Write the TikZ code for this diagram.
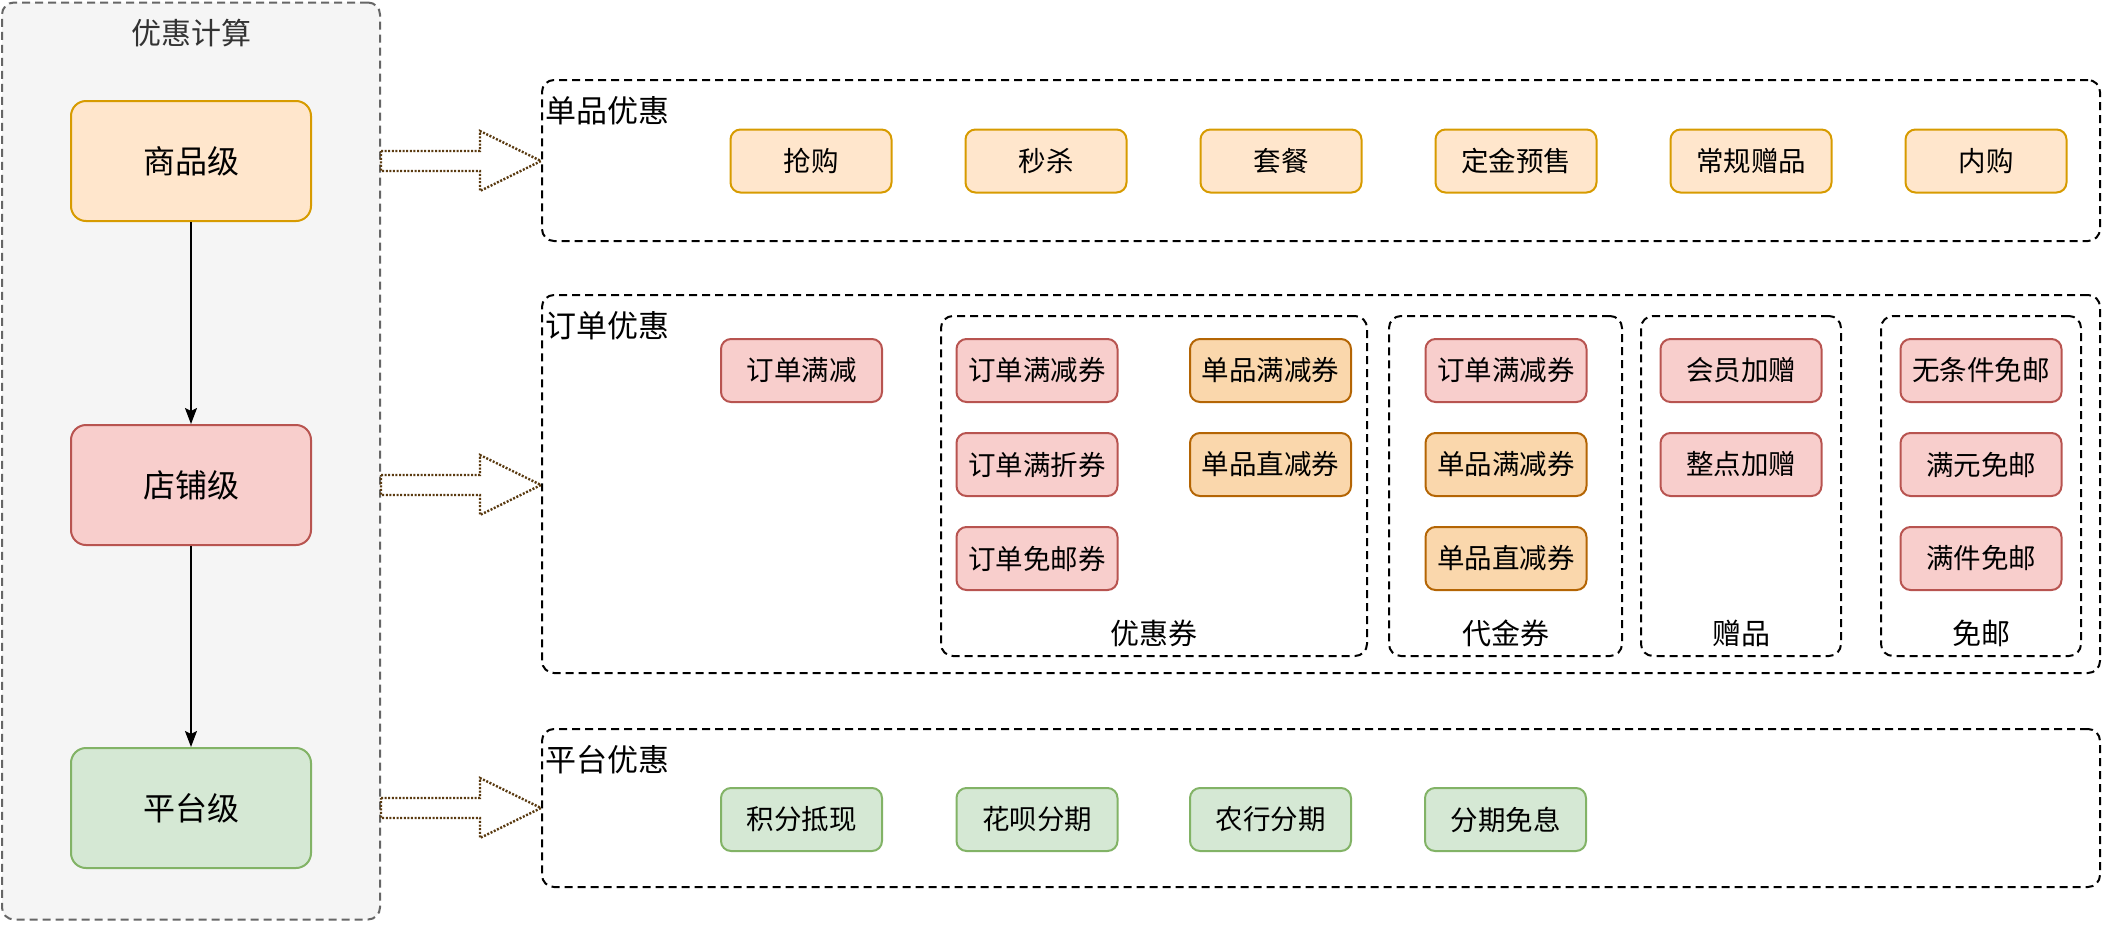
\documentclass[tikz,border=0pt]{standalone}
\usepackage{fontspec}
\setmainfont{Noto Sans CJK SC}
\usetikzlibrary{arrows.meta,calc}
\definecolor{og}{HTML}{FFE6CC}\definecolor{ogd}{HTML}{D79B00}
\definecolor{rd}{HTML}{F8CECC}\definecolor{rdd}{HTML}{B85450}
\definecolor{gr}{HTML}{D5E8D4}\definecolor{grd}{HTML}{82B366}
\definecolor{o2}{HTML}{FAD7AC}\definecolor{o2d}{HTML}{B46504}
\definecolor{pg}{HTML}{F5F5F5}\definecolor{pgd}{HTML}{666666}
\definecolor{tg}{HTML}{333333}\definecolor{brn}{HTML}{5A3A10}
\tikzset{
  x=1pt,y=-1pt,
  item/.style={draw,line width=2pt,rounded corners=10pt,minimum width=161pt,minimum height=63pt,inner sep=0pt,font=\fontsize{27.5}{30}\selectfont},
  big/.style={draw,line width=2pt,rounded corners=15pt,minimum width=240pt,minimum height=120pt,inner sep=0pt,font=\fontsize{32}{36}\selectfont},
  oi/.style={item,fill=og,draw=ogd},
  ri/.style={item,fill=rd,draw=rdd},
  gi/.style={item,fill=gr,draw=grd},
  o2i/.style={item,fill=o2,draw=o2d},
  panel/.style={draw,line width=2pt,dash pattern=on 8pt off 5pt,rounded corners=12pt,inner sep=0pt},
  plabel/.style={anchor=west,inner sep=0pt,font=\fontsize{31}{34}\selectfont},
  glabel/.style={inner sep=0pt,font=\fontsize{29}{32}\selectfont},
  blockarr/.style={draw=brn,fill=white,line width=2.4pt,dash pattern=on 2pt off 1.6pt,line join=miter},
  varr/.style={draw,line width=2pt,-{Stealth[length=16pt,width=12pt,inset=3pt]}}
}
\newcommand{\blockarrow}[2]{%
  \draw[blockarr] ($(#1)+(0,-10)$) -- ($(#2)+(-61,-10)$) -- ($(#2)+(-61,-30)$) -- (#2)
    -- ($(#2)+(-61,30)$) -- ($(#2)+(-61,10)$) -- ($(#1)+(0,10)$) -- cycle;}
\begin{document}
\begin{tikzpicture}
\useasboundingbox (0,0) rectangle (2102,924);
% left panel
\node[draw=pgd,fill=pg,line width=2pt,dash pattern=on 8pt off 5pt,rounded corners=12pt,minimum width=378pt,minimum height=917pt,inner sep=0pt] (lp) at (191,461) {};
\node[text=tg,inner sep=0pt,font=\fontsize{30}{34}\selectfont] (lpt) at (191,33) {优惠计算};
\node[big,fill=og,draw=ogd] (sp) at (191,161) {商品级};
\node[big,fill=rd,draw=rdd] (dp) at (191,485) {店铺级};
\node[big,fill=gr,draw=grd] (pt) at (191,808) {平台级};
\draw[varr] (sp) -- (dp);
\draw[varr] (dp) -- (pt);
% right panels
\node[panel,minimum width=1558pt,minimum height=161pt] (p1) at (1321,160.5) {};
\node[panel,minimum width=1558pt,minimum height=378pt] (p2) at (1321,484) {};
\node[panel,minimum width=1558pt,minimum height=158pt] (p3) at (1321,808) {};
\node[plabel] (p1l) at (545,111) {单品优惠};
\node[plabel] (p2l) at (545,326) {订单优惠};
\node[plabel] (p3l) at (545,760) {平台优惠};
% block arrows
\coordinate (s1) at (lp.east |- sp); \coordinate (t1) at (p1.west |- sp);
\coordinate (s2) at (lp.east |- dp); \coordinate (t2) at (p2.west |- dp);
\coordinate (s3) at (lp.east |- pt); \coordinate (t3) at (p3.west |- pt);
\blockarrow{s1}{t1}
\blockarrow{s2}{t2}
\blockarrow{s3}{t3}
% row 1
\node[oi] (b1) at (811,161) {抢购};
\node[oi] (b2) at (1046,161) {秒杀};
\node[oi] (b3) at (1281,161) {套餐};
\node[oi] (b4) at (1516,161) {定金预售};
\node[oi] (b5) at (1751,161) {常规赠品};
\node[oi] (b6) at (1986,161) {内购};
% groups
\node[panel,minimum width=426pt,minimum height=340pt] (g1) at (1154,486) {};
\node[panel,minimum width=233pt,minimum height=340pt] (g2) at (1505.5,486) {};
\node[panel,minimum width=200pt,minimum height=340pt] (g3) at (1741,486) {};
\node[panel,minimum width=200pt,minimum height=340pt] (g4) at (1981,486) {};
\node[glabel] (g1l) at (1154,633) {优惠券};
\node[glabel] (g2l) at (1505.5,633) {代金券};
\node[glabel] (g3l) at (1741,633) {赠品};
\node[glabel] (g4l) at (1981,633) {免邮};
% row 2
\node[ri] (c0) at (801.5,370.5) {订单满减};
\node[ri] (c1) at (1037,370.5) {订单满减券};
\node[ri] (c2) at (1037,464.5) {订单满折券};
\node[ri] (c3) at (1037,558.5) {订单免邮券};
\node[o2i] (c4) at (1270.5,370.5) {单品满减券};
\node[o2i] (c5) at (1270.5,464.5) {单品直减券};
\node[ri] (d1) at (1506,370.5) {订单满减券};
\node[o2i] (d2) at (1506,464.5) {单品满减券};
\node[o2i] (d3) at (1506,558.5) {单品直减券};
\node[ri] (e1) at (1741,370.5) {会员加赠};
\node[ri] (e2) at (1741,464.5) {整点加赠};
\node[ri] (f1) at (1981,370.5) {无条件免邮};
\node[ri] (f2) at (1981,464.5) {满元免邮};
\node[ri] (f3) at (1981,558.5) {满件免邮};
% row 3
\node[gi] (h1) at (801.5,819.5) {积分抵现};
\node[gi] (h2) at (1037,819.5) {花呗分期};
\node[gi] (h3) at (1270.5,819.5) {农行分期};
\node[gi] (h4) at (1505.5,819.5) {分期免息};
\end{tikzpicture}
\end{document}
